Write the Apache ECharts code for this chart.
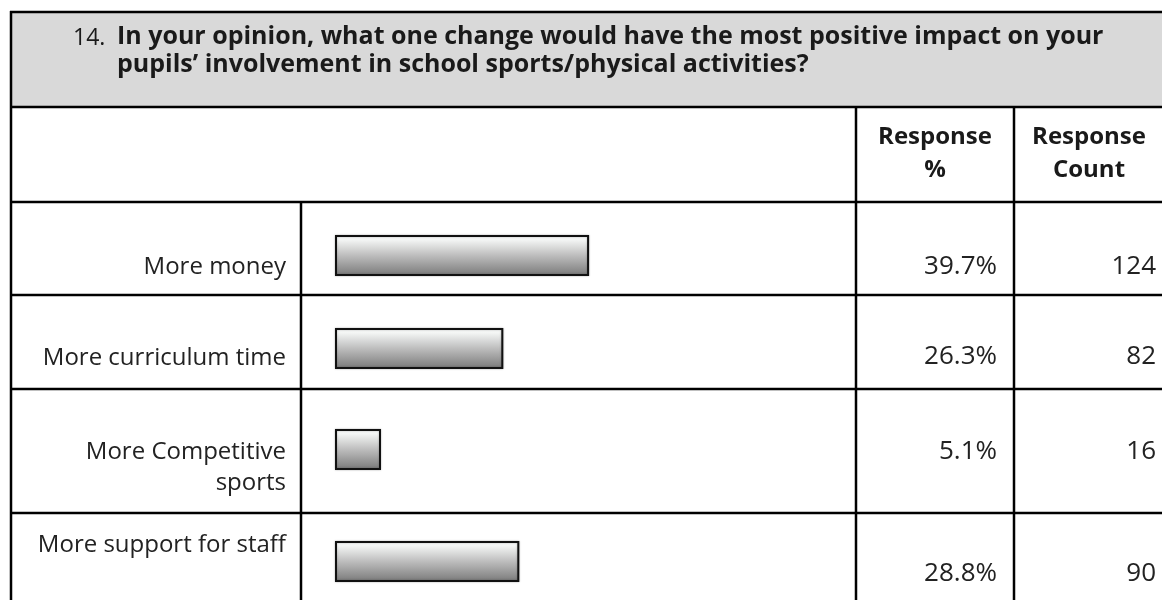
<!DOCTYPE html>
<html>
<head>
<meta charset="utf-8">
<script src="https://cdn.jsdelivr.net/npm/echarts@6/dist/echarts.min.js"></script>
<style>
html,body{margin:0;padding:0;background:#fff;}
#chart{width:1162px;height:600px;}
</style>
</head>
<body>
<div id="chart"></div>
<script>
// ---- data ----
const questionNumber = '14.';
const questionLines = [
  'In your opinion, what one change would have the most positive impact on your',
  'pupils\u2019 involvement in school sports/physical activities?'
];
const columnHeaders = [['Response', '%'], ['Response', 'Count']];
const categories = ['More money', 'More curriculum time', 'More Competitive\nsports', 'More support for staff'];
const responsePercent = [39.7, 26.3, 5.1, 28.8];
const responseCount = [124, 82, 16, 90];

// ---- layout ----
const FONT = '"Open Sans", "Noto Sans", sans-serif';
const rowLines = [202, 295, 389, 513];
const barTops = [235, 328, 429, 541];
const labelY = [267, 358, 452, 545];
const valueY = [267, 357, 452, 574];
const barLeft = 335, barScaleWidth = 640, barH = 41;

const chart = echarts.init(document.getElementById('chart'), null, {renderer: 'canvas'});

const grids = [], xAxes = [], yAxes = [], series = [];
const gradient = new echarts.graphic.LinearGradient(0, 0, 0, 1, [
  {offset: 0, color: '#fbfcfc'},
  {offset: 0.12, color: '#f3f5f4'},
  {offset: 0.5, color: '#bdbdbd'},
  {offset: 1, color: '#787878'}
]);
categories.forEach((c, i) => {
  grids.push({left: barLeft, top: barTops[i], width: barScaleWidth, height: barH});
  xAxes.push({gridIndex: i, type: 'value', min: 0, max: 100, show: false});
  yAxes.push({gridIndex: i, type: 'category', data: [c], show: false});
  series.push({
    type: 'bar', xAxisIndex: i, yAxisIndex: i,
    data: [responsePercent[i]],
    barWidth: '100%', barMinHeight: 46,
    silent: true, animation: false,
    itemStyle: {color: gradient, borderColor: '#111', borderWidth: 2,
      shadowColor: 'rgba(0,0,0,0.3)', shadowBlur: 2}
  });
});

const g = [];
// header background
g.push({type: 'rect', shape: {x: 11, y: 12, width: 1160, height: 95}, style: {fill: '#d9d9d9'}, z: 0});
function line(x1, y1, x2, y2) {
  g.push({type: 'line', shape: {x1, y1, x2, y2}, style: {stroke: '#000', lineWidth: 2.5}, z: 10});
}
line(10, 12, 1162, 12);
line(11, 11, 11, 600);
line(10, 107, 1162, 107);
rowLines.forEach(y => line(10, y, 1162, y));
line(301, 202, 301, 600);
line(856, 107, 856, 600);
line(1014, 107, 1014, 600);

function text(str, x, y, opts) {
  g.push({type: 'text', x, y, z: 20, style: Object.assign({
    text: str, font: '24px ' + FONT, fill: '#1a1a1a',
    textAlign: 'left', textVerticalAlign: 'middle'
  }, opts || {})});
}
// title
text(questionNumber, 73, 38, {font: '23px ' + FONT});
text(questionLines[0], 117, 37, {font: 'bold 25px ' + FONT});
text(questionLines[1], 117, 65, {font: 'bold 25px ' + FONT});
// column headers
text(columnHeaders[0][0], 935, 137, {font: 'bold 24px ' + FONT, textAlign: 'center'});
text(columnHeaders[0][1], 935, 170, {font: 'bold 24px ' + FONT, textAlign: 'center'});
text(columnHeaders[1][0], 1089, 137, {font: 'bold 24px ' + FONT, textAlign: 'center'});
text(columnHeaders[1][1], 1089, 170, {font: 'bold 24px ' + FONT, textAlign: 'center'});
// rows
categories.forEach((c, i) => {
  const parts = c.split('\n');
  parts.forEach((p, k) => text(p, 286, labelY[i] + k * 31, {textAlign: 'right', font: '24px ' + FONT, fill: '#222'}));
  text(responsePercent[i].toFixed(1) + '%', 997, valueY[i], {textAlign: 'right', font: '26px ' + FONT, fill: '#222'});
  text(String(responseCount[i]), 1156, valueY[i], {textAlign: 'right', font: '26px ' + FONT, fill: '#222'});
});

chart.setOption({
  animation: false,
  backgroundColor: '#fff',
  grid: grids, xAxis: xAxes, yAxis: yAxes, series: series,
  graphic: {elements: g}
});
</script>
</body>
</html>
